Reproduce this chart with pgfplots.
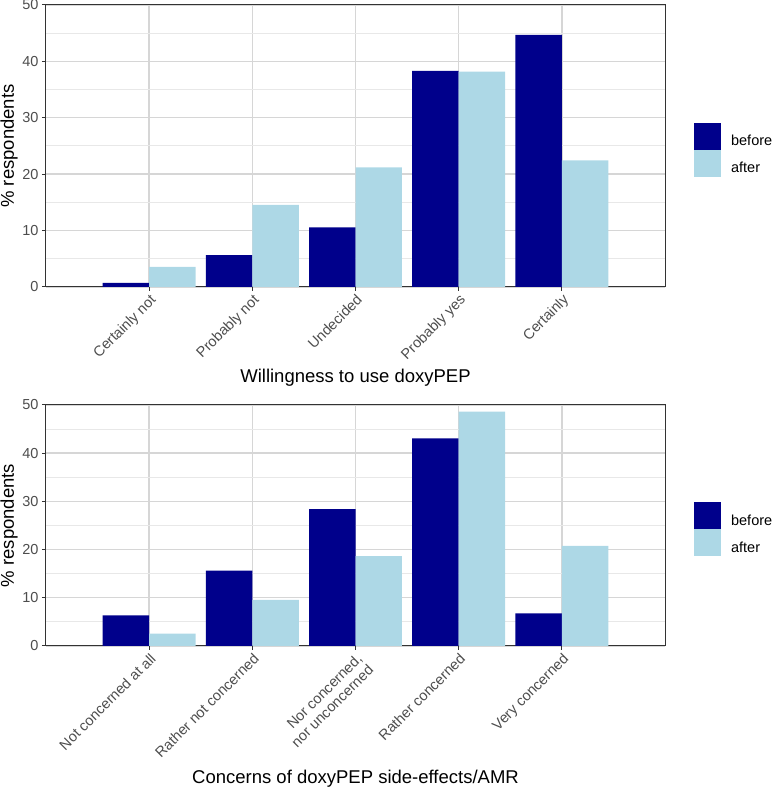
\documentclass[border=0pt]{standalone}
\usepackage{pgfplots}
\pgfplotsset{compat=1.18}
\usepackage{fontspec}
\setmainfont{Liberation Sans}
\definecolor{beforec}{HTML}{00008B}
\definecolor{afterc}{HTML}{ADD8E6}
\definecolor{tickgray}{HTML}{4D4D4D}
\definecolor{framec}{HTML}{333333}
\definecolor{majgrid}{HTML}{D6D6D6}
\definecolor{mingrid}{HTML}{E8E8E8}
\pgfplotsset{
  mybars/.style={
    scale only axis, width=619pt,
    xmin=0, xmax=6, ymin=0, ymax=50,
    xtick={1,2,3,4,5}, ytick={0,10,20,30,40,50},
    minor ytick={5,15,25,35,45},
    xmajorgrids, ymajorgrids, yminorgrids,
    major grid style={majgrid, line width=1.4pt},
    minor grid style={mingrid, line width=1pt},
    axis line style={framec, line width=1pt},
    major tick style={framec, line width=1pt},
    major tick length=4pt, minor tick length=0pt,
    tick align=outside,
    xtick pos=bottom, ytick pos=left,
    /pgf/number format/assume math mode=true,
    yticklabel style={font=\fontsize{14.5}{16}\selectfont, color=tickgray},
    xticklabel style={font=\fontsize{14.5}{16}\selectfont, color=tickgray, rotate=45, anchor=north east, inner sep=1.5pt, align=right},
    ylabel={\% respondents},
    every axis y label/.style={at={(axis description cs:-0.0598,0.5)}, rotate=90, anchor=center, inner sep=0pt, font=\fontsize{18.5}{20}\selectfont},
    legend style={draw=none, fill=none, inner sep=0pt, outer sep=0pt, row sep=0pt, column sep=10pt,
      font=\fontsize{14.5}{16}\selectfont, nodes={inner sep=0pt}, anchor=west},
    legend cell align=left,
  },
  barb/.style={ybar, bar width=0.45, bar shift=-0.225, fill=beforec, draw=none,
    legend image code/.code={\fill[fill=beforec] (0pt,-8.5pt) rectangle (27pt,18.5pt);}},
  bara/.style={ybar, bar width=0.45, bar shift=0.225, fill=afterc, draw=none,
    legend image code/.code={\fill[fill=afterc] (0pt,-8.5pt) rectangle (27pt,18.5pt);}},
}
\begin{document}
\begin{tikzpicture}
\useasboundingbox (0,0) rectangle (772pt,787pt);
\begin{axis}[mybars, at={(46pt,500pt)}, anchor=south west, height=282pt,
  xticklabels={Certainly not, Probably not, Undecided, Probably yes, Certainly},
  xlabel={Willingness to use doxyPEP},
  every axis x label/.style={at={(axis description cs:0.5,-0.321)}, anchor=center, font=\fontsize{18.5}{20}\selectfont},
  legend style={at={(axis description cs:1.047,0.486)}},
]
\addplot[barb] coordinates {(1,0.71) (2,5.67) (3,10.58) (4,38.3) (5,44.7)};
\addlegendentry{before}
\addplot[bara] coordinates {(1,3.55) (2,14.54) (3,21.2) (4,38.2) (5,22.46)};
\addlegendentry{after}
\end{axis}
\begin{axis}[mybars, at={(46pt,141pt)}, anchor=south west, height=241pt,
  xticklabels={Not concerned at all, Rather not concerned, {Nor concerned,\\nor unconcerned}, Rather concerned, Very concerned},
  xlabel={Concerns of doxyPEP side-effects/AMR},
  every axis x label/.style={at={(axis description cs:0.5,-0.55)}, anchor=center, font=\fontsize{18.5}{20}\selectfont},
  legend style={at={(axis description cs:1.047,0.485)}},
]
\addplot[barb] coordinates {(1,6.37) (2,15.65) (3,28.4) (4,43.07) (5,6.79)};
\addlegendentry{before}
\addplot[bara] coordinates {(1,2.56) (2,9.56) (3,18.63) (4,48.6) (5,20.78)};
\addlegendentry{after}
\end{axis}
\end{tikzpicture}
\end{document}
